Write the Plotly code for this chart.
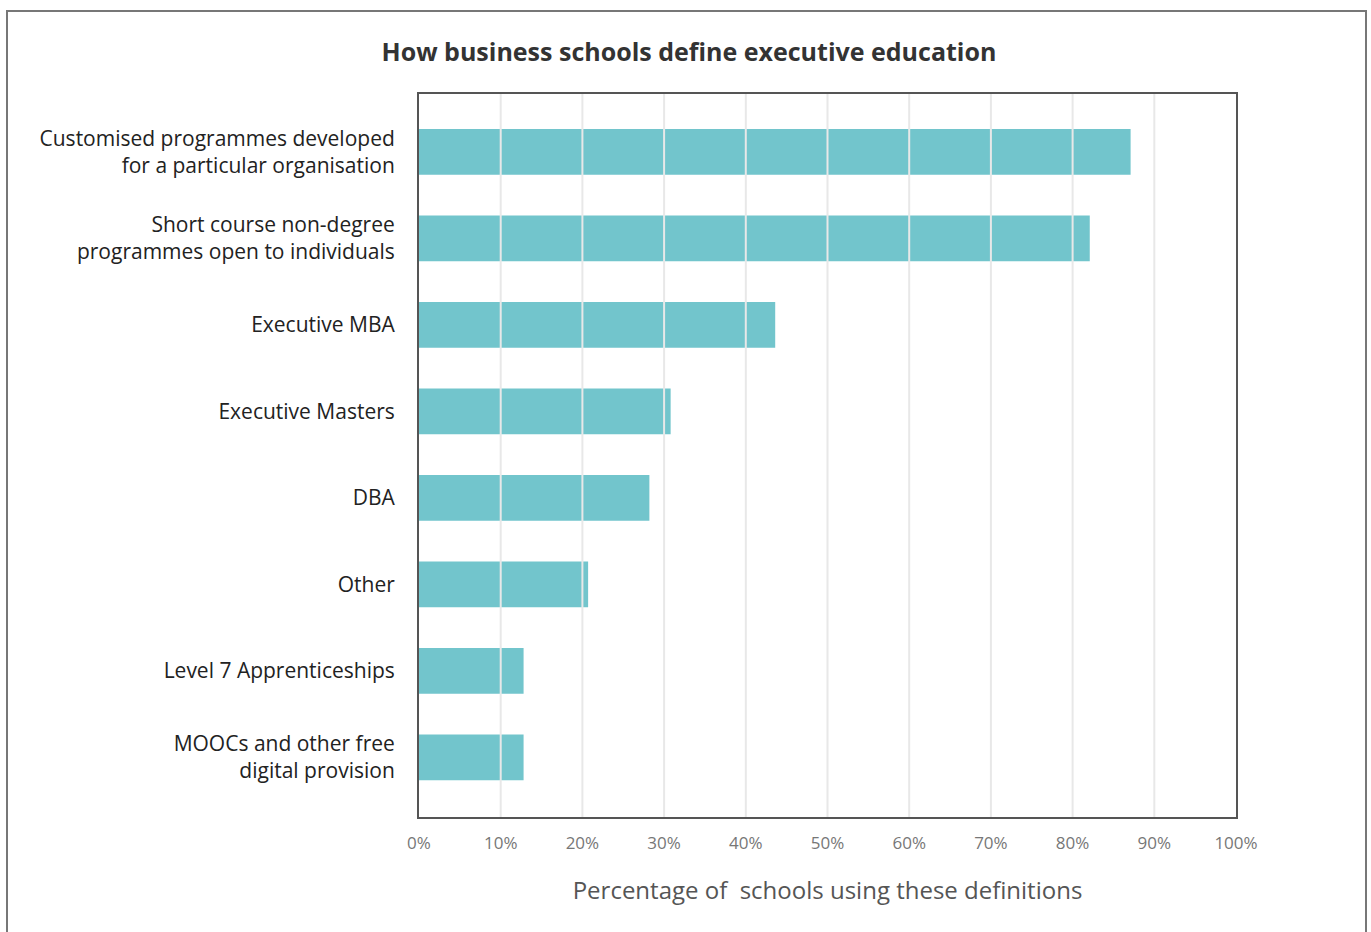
import plotly.graph_objects as go

# Survey responses: how business schools define executive education
categories = [
    "Customised programmes developed<br>for a particular organisation",
    "Short course non-degree<br>programmes open to individuals",
    "Executive MBA",
    "Executive Masters",
    "DBA",
    "Other",
    "Level 7 Apprenticeships",
    "MOOCs and other free<br>digital provision",
]
shares = [87.1, 82.1, 43.6, 30.8, 28.2, 20.7, 12.8, 12.8]

tick_values = list(range(0, 101, 10))
tick_labels = [f"{v}%" for v in tick_values]

W, H = 1371, 932
ML, MR, MT, MB = 419, 135, 94, 115
plot_w = W - ML - MR
plot_h = H - MT - MB

FONT = "Open Sans, Roboto, Arial, sans-serif"

fig = go.Figure(
    go.Bar(
        x=shares,
        y=categories,
        orientation="h",
        marker=dict(color="#72c5cc", line=dict(width=0)),
        width=0.53,
        hoverinfo="x+y",
    )
)

# Light vertical gridlines drawn over the bars
shapes = []
for v in tick_values[1:-1]:
    shapes.append(dict(
        type="line", xref="x", yref="paper", x0=v, x1=v, y0=0, y1=1,
        line=dict(color="#e8e8e8", width=2), layer="above",
    ))

# Outer frame around the whole graphic
def px_to_paper_x(px):
    return (px - ML) / plot_w

def px_to_paper_y(py):
    return (H - MB - py) / plot_h

shapes.append(dict(
    type="rect", xref="paper", yref="paper",
    x0=px_to_paper_x(7), x1=px_to_paper_x(1366),
    y0=px_to_paper_y(945), y1=px_to_paper_y(11),
    line=dict(color="#777777", width=2), fillcolor="rgba(0,0,0,0)", layer="below",
))

fig.update_layout(
    width=W, height=H,
    margin=dict(l=ML, r=MR, t=MT, b=MB, pad=0),
    paper_bgcolor="white",
    plot_bgcolor="white",
    font=dict(family=FONT, color="#222222"),
    title=dict(
        text="<b>How business schools define executive education</b>",
        x=px_to_paper_x(689), xref="paper", xanchor="center",
        y=1 - 52 / H, yanchor="middle",
        font=dict(size=25, color="#333333", family=FONT),
    ),
    showlegend=False,
    bargap=0.47,
    shapes=shapes,
    xaxis=dict(
        range=[0, 100],
        tickvals=tick_values,
        ticktext=tick_labels,
        showgrid=False,
        zeroline=False,
        showline=True, mirror=True, linecolor="#555555", linewidth=2,
        ticks="", ticklabelstandoff=10,
        tickfont=dict(size=17, color="#777777", family=FONT),
        title=dict(
            text="Percentage of  schools using these definitions",
            font=dict(size=24, color="#555555", family=FONT),
            standoff=29,
        ),
        fixedrange=True,
    ),
    yaxis=dict(
        autorange=False,
        range=[7.69, -0.67],
        categoryorder="array",
        categoryarray=categories,
        showgrid=False,
        zeroline=False,
        showline=True, mirror=True, linecolor="#555555", linewidth=2,
        ticks="", ticklabelstandoff=18,
        tickfont=dict(size=21, color="#222222", family=FONT),
        fixedrange=True,
    ),
)

fig.write_html("out.html")
